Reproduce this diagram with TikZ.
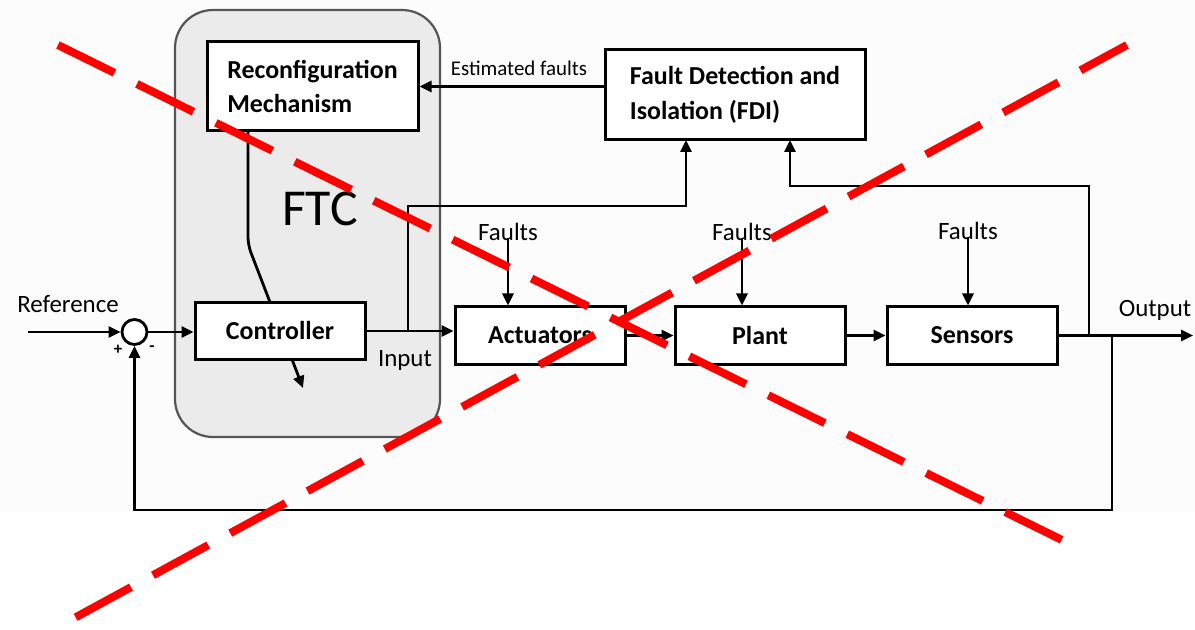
\documentclass[tikz,border=0pt]{standalone}
\usepackage{fontspec}
\setmainfont{Carlito}
\usetikzlibrary{arrows.meta,calc}
\definecolor{ftcfill}{RGB}{235,235,235}
\definecolor{ftcedge}{RGB}{85,85,85}
\definecolor{crossred}{RGB}{255,0,0}
\definecolor{paper}{RGB}{252,252,252}
\tikzset{
  blk/.style={draw, line width=3bp, fill=white, inner sep=0pt,
    font=\fontsize{26}{35}\selectfont\bfseries, align=left},
  lbl/.style={inner sep=0pt, font=\fontsize{25}{30}\selectfont},
  sig/.style={line width=2.8bp, -{Triangle[length=12bp,width=11bp]}},
  cross/.style={crossred, line width=8bp, dash pattern=on 63bp off 25bp},
}
\begin{document}
\begin{tikzpicture}[x=1bp,y=-1bp]
\useasboundingbox (0,0) rectangle (1195,630);
\fill[paper] (0,0) rectangle (1195,512);

% fault-tolerant controller group
\draw[ftcedge, fill=ftcfill, line width=2.2bp, rounded corners=38bp] (175,10) rectangle (440,437);
\node[font=\fontsize{52}{60}\selectfont, inner sep=0pt] (ftc) at (320,209) {FTC};
\node[blk, minimum width=211bp, minimum height=89bp] (reconf) at (312.5,86.5) {Reconfiguration\\Mechanism};

% adjustment arrow through the controller
\coordinate (adjtop) at (248,131);
\coordinate (adjbend) at (248,245);
\coordinate (adjtip) at (303,388);
\draw[sig, rounded corners=8bp] (adjtop) -- (adjbend) -- (adjtip);
\node[blk, minimum width=170bp, minimum height=57bp] (ctrl) at (280,331) {Controller};

% summing junction
\node[draw, circle, line width=2.8bp, minimum size=25bp, inner sep=0pt, fill=white] (sum) at (134.5,332) {};
\node[inner sep=0pt, font=\fontsize{17}{20}\selectfont\bfseries] (plus) at (118,350) {+};
\node[inner sep=0pt, font=\fontsize{17}{20}\selectfont\bfseries] (minus) at (152,349) {-};

% plant chain
\node[blk, minimum width=260bp, minimum height=90bp] (fdi) at (735,95) {Fault Detection and\\Isolation (FDI)};
\node[blk, minimum width=170bp, minimum height=57bp] (act) at (540,335.5) {Actuators};
\node[blk, minimum width=170bp, minimum height=57bp] (plant) at (760,335.5) {Plant};
\node[blk, minimum width=170bp, minimum height=57bp] (sens) at (972,335.5) {Sensors};

% labels
\node[lbl] (reflbl) at (68,304) {Reference};
\node[lbl] (inlbl) at (405,361) {Input};
\node[lbl] (outlbl) at (1155,310) {Output};
\node[inner sep=0pt, font=\fontsize{21}{24}\selectfont] (estlbl) at (519,68) {Estimated faults};
\node[lbl] (f1) at (508,232) {Faults};
\node[lbl] (f2) at (742,232) {Faults};
\node[lbl] (f3) at (968,231) {Faults};

% signal flow
\coordinate (refin) at (28,332);
\draw[sig] (refin) -- (sum.west);
\draw[sig] (sum.east) -- (sum.east -| ctrl.west);
\draw[sig] (ctrl.east) -- (ctrl.east -| act.west);
\draw[sig] (act.east) -- (plant.west);
\draw[sig] (plant.east) -- (sens.west);
\coordinate (outend) at (1193,335.5);
\draw[sig] (sens.east) -- (outend);
\draw[sig] (fdi.west |- reconf.east) -- (reconf.east);

% fault inputs
\draw[sig] ([yshift=3bp]f1.south) -- (f1.south |- act.north);
\draw[sig] ([yshift=3bp]f2.south) -- (f2.south |- plant.north);
\draw[sig] ([yshift=3bp]f3.south) -- (f3.south |- sens.north);

% measurement taps to FDI
\coordinate (tapin) at (408,332);
\coordinate (tapinup) at (408,206);
\coordinate (fdiinA) at (686,140);
\draw[sig] (tapin) -- (tapinup) -| (fdiinA);
\coordinate (tapout) at (1089,335.5);
\coordinate (tapoutup) at (1089,186);
\coordinate (fdiinB) at (790,140);
\draw[sig] (tapout) -- (tapoutup) -| (fdiinB);

% feedback loop
\coordinate (fbk) at (1112,335.5);
\coordinate (fbkdown) at (1112,510);
\draw[sig] (fbk) -- (fbkdown) -| (sum.south);

% crossing-out strokes
\coordinate (xa1) at (58,45);
\coordinate (xa2) at (1062,540);
\coordinate (xb1) at (1127,45);
\coordinate (xb2) at (67,622);
\draw[cross] (xa1) -- (xa2);
\draw[cross, dash phase=10bp] (xb1) -- (xb2);
\end{tikzpicture}
\end{document}
